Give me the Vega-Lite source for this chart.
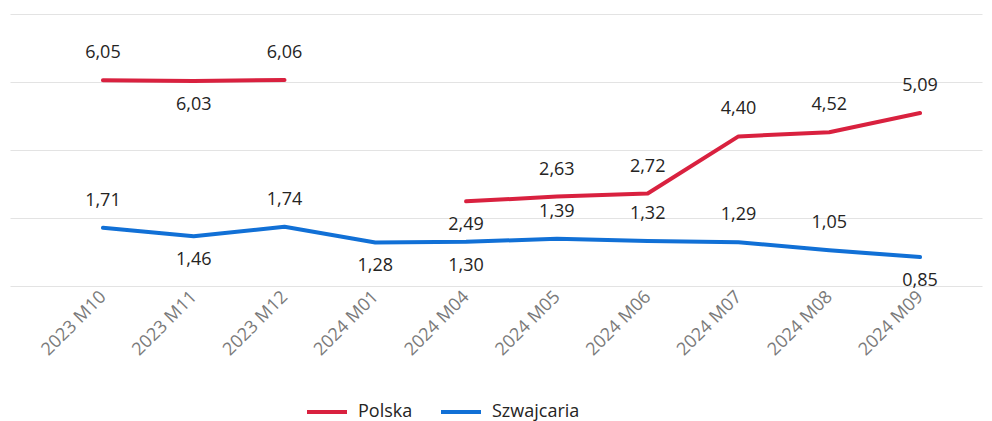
{
  "$schema": "https://vega.github.io/schema/vega-lite/v6.json",
  "width": 972,
  "height": 272,
  "autosize": {"type": "none"},
  "padding": {"left": 10, "top": 14, "right": 10, "bottom": 135},
  "background": "#ffffff",
  "config": {
    "view": {"stroke": null},
    "font": "Open Sans",
    "locale": {"number": {"decimal": ",", "thousands": " ", "grouping": [3], "currency": ["", " zł"]}}
  },
  "data": {
    "values": [
      {"m": "2023 M10", "s": "Polska", "v": 6.05},
      {"m": "2023 M11", "s": "Polska", "v": 6.03},
      {"m": "2023 M12", "s": "Polska", "v": 6.06},
      {"m": "2024 M01", "s": "Polska", "v": null},
      {"m": "2024 M04", "s": "Polska", "v": 2.49},
      {"m": "2024 M05", "s": "Polska", "v": 2.63},
      {"m": "2024 M06", "s": "Polska", "v": 2.72},
      {"m": "2024 M07", "s": "Polska", "v": 4.40},
      {"m": "2024 M08", "s": "Polska", "v": 4.52},
      {"m": "2024 M09", "s": "Polska", "v": 5.09},
      {"m": "2023 M10", "s": "Szwajcaria", "v": 1.71},
      {"m": "2023 M11", "s": "Szwajcaria", "v": 1.46},
      {"m": "2023 M12", "s": "Szwajcaria", "v": 1.74},
      {"m": "2024 M01", "s": "Szwajcaria", "v": 1.28},
      {"m": "2024 M04", "s": "Szwajcaria", "v": 1.30},
      {"m": "2024 M05", "s": "Szwajcaria", "v": 1.39},
      {"m": "2024 M06", "s": "Szwajcaria", "v": 1.32},
      {"m": "2024 M07", "s": "Szwajcaria", "v": 1.29},
      {"m": "2024 M08", "s": "Szwajcaria", "v": 1.05},
      {"m": "2024 M09", "s": "Szwajcaria", "v": 0.85}
    ]
  },
  "encoding": {
    "x": {
      "field": "m",
      "type": "nominal",
      "sort": null,
      "scale": {"type": "point", "padding": 0.853, "align": 0.6},
      "axis": {
        "title": null,
        "labelAngle": -45,
        "labelAlign": "right",
        "labelBaseline": "middle",
        "ticks": false,
        "domain": false,
        "grid": false,
        "labelColor": "#7a7a7a",
        "labelFontSize": 18,
        "labelFont": "Open Sans",
        "labelPadding": 8
      }
    },
    "y": {
      "field": "v",
      "type": "quantitative",
      "scale": {"domain": [0, 8], "nice": false},
      "axis": {
        "title": null,
        "labels": false,
        "ticks": false,
        "domain": false,
        "grid": true,
        "values": [0, 2, 4, 6, 8],
        "gridColor": "#e3e3e3",
        "gridWidth": 1.2
      }
    }
  },
  "layer": [
    {
      "mark": {"type": "line", "strokeWidth": 4, "invalid": "break-paths-filter-domains", "strokeCap": "round", "strokeJoin": "round"},
      "encoding": {
        "color": {
          "field": "s",
          "type": "nominal",
          "scale": {"domain": ["Polska", "Szwajcaria"], "range": ["#D9213F", "#1170D6"]},
          "legend": {
            "title": null,
            "orient": "none",
            "direction": "horizontal",
            "legendX": 295,
            "legendY": 376,
            "symbolType": "stroke",
            "symbolSize": 1600,
            "symbolStrokeWidth": 4,
            "labelFontSize": 18,
            "labelFont": "Open Sans",
            "labelColor": "#252423",
            "labelOffset": 9,
            "columnPadding": 20
          }
        }
      }
    },
    {
      "transform": [
        {"filter": "isValid(datum.v) && !((datum.s == 'Polska' && indexof(['2023 M11','2024 M04'], datum.m) >= 0) || (datum.s == 'Szwajcaria' && indexof(['2023 M11','2024 M01','2024 M04','2024 M09'], datum.m) >= 0))"}
      ],
      "mark": {"type": "text", "dy": -27, "baseline": "middle", "fontSize": 18, "font": "Open Sans", "color": "#252423"},
      "encoding": {"text": {"field": "v", "type": "quantitative", "format": ".2f"}}
    },
    {
      "transform": [
        {"filter": "isValid(datum.v) && ((datum.s == 'Polska' && indexof(['2023 M11','2024 M04'], datum.m) >= 0) || (datum.s == 'Szwajcaria' && indexof(['2023 M11','2024 M01','2024 M04','2024 M09'], datum.m) >= 0))"}
      ],
      "mark": {"type": "text", "dy": 24, "baseline": "middle", "fontSize": 18, "font": "Open Sans", "color": "#252423"},
      "encoding": {"text": {"field": "v", "type": "quantitative", "format": ".2f"}}
    }
  ]
}
